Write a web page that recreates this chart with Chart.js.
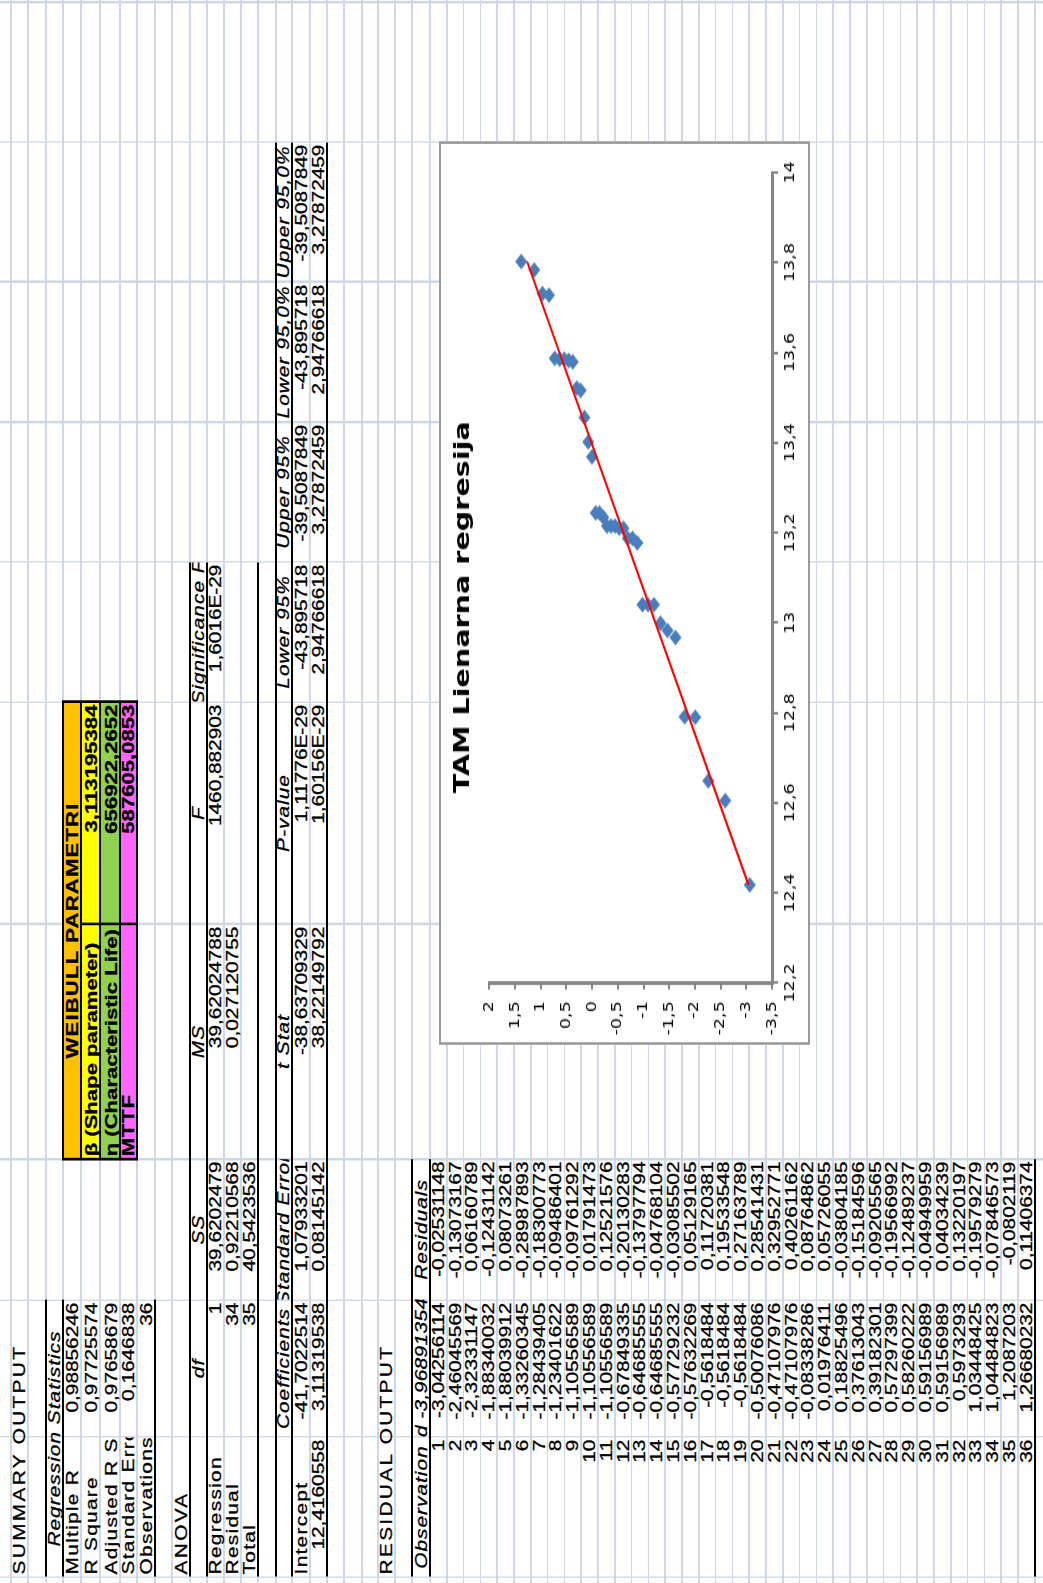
<!DOCTYPE html>
<html>
<head>
<meta charset="utf-8">
<title>TAM Lienarna regresija</title>
<script src="https://cdn.jsdelivr.net/npm/chart.js@4.4.1/dist/chart.umd.min.js"></script>
<style>
  html, body { margin: 0; padding: 0; background: #fff; }
  body { width: 1043px; height: 1583px; overflow: hidden; position: relative; }
  /* the sheet is laid out upright, then stretched and turned onto its side like the screenshot */
  #sheet {
    position: absolute; left: 0; top: 0; width: 1218px; height: 1043px;
    transform-origin: 0 0;
    transform: translateY(1583px) rotate(-90deg) scale(1.3, 1);
    font-family: "Liberation Sans", Arial, sans-serif; font-size: 16px; color: #000;
    background: #fff; overflow: hidden;
  }
  .gl { position: absolute; background: #d0d7e5; }
  .bl { position: absolute; background: #000; }
  .c { position: absolute; display: flex; align-items: flex-end; white-space: nowrap; box-sizing: border-box; padding: 0 2px; line-height: 16px; }
  .c span { flex: none; -webkit-text-stroke: 0.3px #000; }
  .fill { position: absolute; box-sizing: border-box; border: 1px solid #000; }
  #chartBox { position: absolute; left: 413.8px; top: 439px; width: 695.4px; height: 371px; box-sizing: border-box; border-style: solid; border-color: #9a9a9a; border-width: 2.5px 2px; background: #fff; }
  #chartBox canvas { position: absolute; left: 0; top: 0; }
</style>
</head>
<body>
<div id="sheet"></div>
<script>
// --------------------------------------------------------------------------
// DATA
// --------------------------------------------------------------------------
const observation = [1, 2, 3, 4, 5, 6, 7, 8, 9, 10, 11, 12, 13, 14, 15, 16, 17, 18,
    19, 20, 21, 22, 23, 24, 25, 26, 27, 28, 29, 30, 31, 32, 33, 34, 35, 36];
const predicted = [-3.04256114, -2.46045569, -2.32331147, -1.88340032, -1.88039912, -1.33260345,
    -1.28439405, -1.23401622, -1.10556589, -1.10556589, -1.10556589, -0.67849335,
    -0.64685555, -0.64685555, -0.57729232, -0.57632269, -0.5618484, -0.5618484,
    -0.5618484, -0.50076086, -0.47107976, -0.47107976, -0.08338286, 0.01976411,
    0.18825496, 0.37613043, 0.39182301, 0.57297399, 0.58260222, 0.59156989,
    0.59156989, 0.5973293, 1.03448425, 1.04484823, 1.2087203, 1.26680232];
const residuals = [-0.02531148, -0.13073167, 0.06160789, -0.12431142, 0.08073261, -0.28987893,
    -0.18300773, -0.09486401, -0.09761292, 0.01791473, 0.12521576, -0.20130283,
    -0.13797794, -0.04768104, -0.03085502, 0.05129165, 0.11720381, 0.19533548,
    0.27163789, 0.28541431, 0.32952771, 0.40261162, 0.08764862, 0.05726055,
    -0.03804185, -0.15184596, -0.09205565, -0.19566992, -0.12489237, -0.04949959,
    0.04034239, 0.13220197, -0.19579279, -0.07846573, -0.0802119, 0.11406374];

// scatter points: ln(t) on x, ln(-ln(1-F)) on y
const lnTime = [12.418, 12.605, 12.649, 12.7903, 12.7913, 12.9673, 12.9828, 12.9989, 13.0402,
    13.0402, 13.0402, 13.1774, 13.1875, 13.1875, 13.2099, 13.2102, 13.2148, 13.2148,
    13.2148, 13.2345, 13.244, 13.244, 13.3685, 13.4017, 13.4558, 13.5161, 13.5212,
    13.5794, 13.5825, 13.5853, 13.5853, 13.5872, 13.7276, 13.7309, 13.7836, 13.8022];
const lnLnF = [-3.0679, -2.5912, -2.2617, -2.0077, -1.7997, -1.6225, -1.4674, -1.3289, -1.2032,
    -1.0877, -0.9804, -0.8798, -0.7848, -0.6945, -0.6081, -0.525, -0.4446, -0.3665,
    -0.2902, -0.2154, -0.1416, -0.0685, 0.0043, 0.077, 0.1502, 0.2243, 0.2998,
    0.3773, 0.4577, 0.5421, 0.6319, 0.7295, 0.8387, 0.9664, 1.1285, 1.3809];

// linear trendline ends
const trendX = [12.418, 13.8022];
const trendY = [-3.04256114, 1.26680232];

const xTickLabels = ['12,2', '12,4', '12,6', '12,8', '13', '13,2', '13,4', '13,6', '13,8', '14'];
const yTickLabels = ['-3,5', '-3', '-2,5', '-2', '-1,5', '-1', '-0,5', '0', '0,5', '1', '1,5', '2'];

// --------------------------------------------------------------------------
// SHEET GRID
// --------------------------------------------------------------------------
const sheet = document.getElementById('sheet');
const colX = [4.6, 112.3, 217.7, 326.2, 506.9, 677.7, 785.4, 893.1, 1000.8, 1108.5, 1216.2];
const headRows = [17, 18, 17, 18, 19, 20, 17, 18, 17, 18, 17, 17, 17, 17, 18, 16, 18, 17, 17, 18, 16, 17, 17, 18];
const rowTop = [-6, 11];
headRows.forEach(h => rowTop.push(rowTop[rowTop.length - 1] + h));
for (let i = 0; i < observation.length; i++) rowTop.push(rowTop[rowTop.length - 1] + 16.8);
rowTop.push(rowTop[rowTop.length - 1] + 17);

function box(cls, left, top, width, height, bg) {
    const d = document.createElement('div');
    d.className = cls;
    d.style.left = left + 'px';
    d.style.top = top + 'px';
    d.style.width = width + 'px';
    d.style.height = height + 'px';
    if (bg) d.style.background = bg;
    sheet.appendChild(d);
    return d;
}

rowTop.slice(1).forEach(t => box('gl', 0, t - 0.75, 1218, 1.5));
colX.forEach(x => box('gl', x - 0.75, 0, 1.5, 1043));

function hBorder(r, c0, c1, h) {
    h = h || 2;
    box('bl', colX[c0], rowTop[r] - h / 2, colX[c1] - colX[c0], h);
}

function cell(r, c, text, o) {
    o = o || {};
    const span = o.span || 1;
    const d = box('c', colX[c], rowTop[r], colX[c + span] - colX[c], rowTop[r + 1] - rowTop[r]);
    d.style.justifyContent = { l: 'flex-start', r: 'flex-end', c: 'center' }[o.a || 'l'];
    if (o.clip) d.style.overflow = 'hidden';
    const s = document.createElement('span');
    s.textContent = text;
    if (o.i) s.style.fontStyle = 'italic';
    if (o.b) { s.style.fontWeight = 'bold'; s.style.fontSize = '17px'; }
    if (o.ls) s.style.letterSpacing = o.ls + 'px';
    if (o.indent) s.style.marginLeft = o.indent + 'px';
    d.appendChild(s);
}

const num = v => String(v).replace('.', ',');
const L = { ls: 1 };

// --- Summary / regression statistics
cell(1, 0, 'SUMMARY OUTPUT', { ls: 1.8 });
cell(3, 0, 'Regression Statistics', { span: 2, a: 'c', i: true, ls: 0.8 });
cell(4, 0, 'Multiple R', L);             cell(4, 1, '0,98856246', { a: 'r' });
cell(5, 0, 'R Square', L);               cell(5, 1, '0,97725574', { a: 'r' });
cell(6, 0, 'Adjusted R Square', { ls: 1, clip: true }); cell(6, 1, '0,97658679', { a: 'r' });
cell(7, 0, 'Standard Error', { ls: 1, clip: true });    cell(7, 1, '0,1646838', { a: 'r' });
cell(8, 0, 'Observations', { ls: 1, clip: true });      cell(8, 1, '36', { a: 'r' });
hBorder(3, 0, 2); hBorder(4, 0, 2, 1.5); hBorder(9, 0, 2);

// --- ANOVA
cell(10, 0, 'ANOVA', { ls: 1.8 });
['df', 'SS', 'MS', 'F', 'Significance F'].forEach((t, i) =>
    cell(11, i + 1, t, { a: 'c', i: true, ls: 0.8, clip: true }));
cell(12, 0, 'Regression', L); cell(13, 0, 'Residual', L); cell(14, 0, 'Total', L);
const anova = [
    ['1', '39,6202479', '39,62024788', '1460,882903', '1,6016E-29'],
    ['34', '0,92210568', '0,027120755'],
    ['35', '40,5423536']
];
anova.forEach((row, r) => row.forEach((t, i) => cell(12 + r, i + 1, t, { a: 'r' })));
hBorder(11, 0, 6); hBorder(12, 0, 6, 1.5); hBorder(15, 0, 6);

// --- Coefficients
['Coefficients', 'Standard Error', 't Stat', 'P-value', 'Lower 95%', 'Upper 95%', 'Lower 95,0%', 'Upper 95,0%']
    .forEach((t, i) => cell(16, i + 1, t, { a: 'c', i: true, ls: 0.8, clip: true }));
cell(17, 0, 'Intercept', L);
cell(18, 0, '12,4160558', { a: 'r' });
const coef = [
    ['-41,7022514', '1,07933201', '-38,63709329', '1,11776E-29', '-43,895718', '-39,5087849', '-43,895718', '-39,5087849'],
    ['3,11319538', '0,08145142', '38,22149792', '1,60156E-29', '2,94766618', '3,27872459', '2,94766618', '3,27872459']
];
coef.forEach((row, r) => row.forEach((t, i) => cell(17 + r, i + 1, t, { a: 'r' })));
hBorder(16, 0, 9); hBorder(17, 0, 9, 1.5); hBorder(19, 0, 9);

// --- Residual output
cell(22, 0, 'RESIDUAL OUTPUT', { ls: 1.8 });
cell(24, 0, 'Observation', { a: 'c', i: true, ls: 0.8, clip: true });
cell(24, 1, 'Predicted -3,968913541', { i: true, ls: 0.3, clip: true, indent: -63 });
cell(24, 2, 'Residuals', { a: 'c', i: true, ls: 0.8, clip: true });
observation.forEach((n, i) => {
    cell(25 + i, 0, String(n), { a: 'r' });
    cell(25 + i, 1, num(predicted[i]), { a: 'r' });
    cell(25 + i, 2, num(residuals[i]), { a: 'r' });
});
hBorder(24, 0, 3); hBorder(25, 0, 3, 1.5); hBorder(25 + observation.length, 0, 3);

// --- Weibull parameters block
const wLeft = colX[3], wMid = colX[4], wRight = colX[5];
box('fill', wLeft, rowTop[4], wRight - wLeft, rowTop[5] - rowTop[4], '#ffc000');
const wColors = ['#ffff00', '#92d050', '#ff66ff'];
wColors.forEach((bg, i) => {
    const r = 5 + i;
    box('fill', wLeft, rowTop[r], wMid - wLeft, rowTop[r + 1] - rowTop[r], bg);
    box('fill', wMid, rowTop[r], wRight - wMid, rowTop[r + 1] - rowTop[r], bg);
});
const frame = box('fill', wLeft - 1, rowTop[4] - 1, wRight - wLeft + 2, rowTop[8] - rowTop[4] + 2);
frame.style.border = '2.5px solid #000';
cell(4, 3, 'WEIBULL PARAMETRI', { span: 2, a: 'c', b: true, ls: 0.9 });
cell(5, 3, 'β (Shape parameter)', { b: true });          cell(5, 4, '3,113195384', { a: 'r', b: true });
cell(6, 3, 'η (Characteristic Life)', { b: true });      cell(6, 4, '656922,2652', { a: 'r', b: true });
cell(7, 3, 'MTTF', { b: true, ls: 0.6 });                cell(7, 4, '587605,0853', { a: 'r', b: true });

// --------------------------------------------------------------------------
// CHART
// --------------------------------------------------------------------------
const chartBox = document.createElement('div');
chartBox.id = 'chartBox';
chartBox.innerHTML = '<canvas id="tamChart" width="691" height="366"></canvas>';
sheet.appendChild(chartBox);

const tickFont = { family: 'DejaVu Sans', size: 13.5 };
const axisColor = '#868686';

new Chart(document.getElementById('tamChart'), {
    type: 'scatter',
    data: {
        datasets: [
            {
                type: 'line', label: 'Linear',
                data: trendX.map((x, i) => ({ x, y: trendY[i] })),
                borderColor: '#ff0000', borderWidth: 2, pointRadius: 0, fill: false
            },
            {
                label: 'TAM',
                data: lnTime.map((x, i) => ({ x, y: lnLnF[i] })),
                pointStyle: 'rectRot', pointRadius: 5.8,
                backgroundColor: '#4a7ebb', borderColor: '#4a7ebb', borderWidth: 0.5
            }
        ]
    },
    options: {
        responsive: false, animation: false, devicePixelRatio: 1,
        layout: { padding: { left: 0, right: 22, top: 0, bottom: 0 } },
        plugins: {
            legend: { display: false },
            tooltip: { enabled: false },
            title: {
                display: true, text: 'TAM Lienarna regresija', color: '#000',
                font: { family: 'DejaVu Sans', size: 22, weight: 'bold' },
                padding: { top: 9, bottom: 13 }
            }
        },
        scales: {
            x: {
                type: 'linear', min: 12.2, max: 14,
                ticks: {
                    stepSize: 0.2, autoSkip: false, maxRotation: 0, padding: 4, color: '#000', font: tickFont,
                    callback: (v) => xTickLabels[Math.round((v - 12.2) / 0.2)]
                },
                grid: { drawOnChartArea: false, drawTicks: true, tickLength: 6, color: axisColor, lineWidth: 2 },
                border: { display: true, color: axisColor, width: 3 },
                afterFit: (s) => { s.height = 35; }
            },
            y: {
                type: 'linear', min: -3.5, max: 2,
                ticks: {
                    stepSize: 0.5, autoSkip: false, padding: 9, color: '#000', font: tickFont,
                    callback: (v) => yTickLabels[Math.round((v + 3.5) / 0.5)]
                },
                grid: { drawOnChartArea: false, drawTicks: true, tickLength: 5, color: axisColor, lineWidth: 2 },
                border: { display: true, color: axisColor, width: 3 },
                afterFit: (s) => { s.width = 45.5; }
            }
        }
    }
});
</script>
</body>
</html>
